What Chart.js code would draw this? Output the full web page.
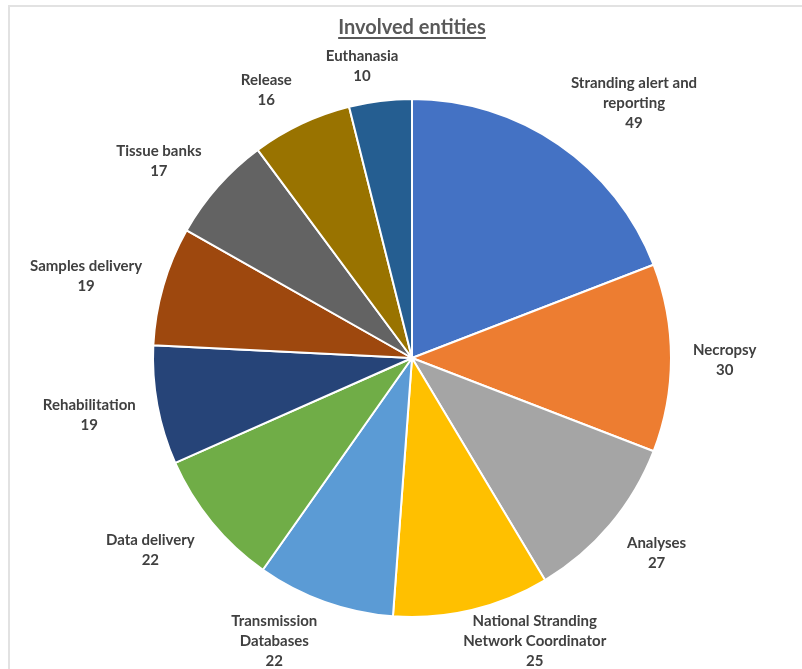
<!DOCTYPE html>
<html><head><meta charset="utf-8">
<script src="https://cdn.jsdelivr.net/npm/chart.js@4/dist/chart.umd.min.js"></script>
<style>
html,body{margin:0;padding:0;background:#fff;overflow:hidden}
#wrap{position:relative;width:802px;height:669px}
#frame{position:absolute;left:8px;top:5px;width:1000px;height:1000px;border-left:2px solid #e2e2e2;border-top:2px solid #e2e2e2;pointer-events:none}
</style></head><body>
<div id="wrap"><canvas id="c" width="802" height="669"></canvas><div id="frame"></div></div>
<script>
const chartTitle = 'Involved entities';
const categories = ['Stranding alert and reporting','Necropsy','Analyses','National Stranding Network Coordinator','Transmission Databases','Data delivery','Rehabilitation','Samples delivery','Tissue banks','Release','Euthanasia'];
const values = [49,30,27,25,22,22,19,19,17,16,10];
const colors = ['#4472C4','#ED7D31','#A5A5A5','#FFC000','#5B9BD5','#70AD47','#264478','#9E480E','#636363','#997300','#255E91'];

const LABEL_FONT = 'bold 15px Lato';
const TITLE_FONT = 'bold 20px Lato';

function wrapText(ctx, text, maxW){
  const words = text.split(' '); const lines=[]; let cur='';
  for(const w of words){
    const t = cur ? cur+' '+w : w;
    if(cur && ctx.measureText(t).width > maxW){ lines.push(cur); cur=w; } else cur=t;
  }
  if(cur) lines.push(cur);
  return lines;
}
const clamp1 = v => Math.max(-1, Math.min(1, v));

const labelPlugin = {
  id:'outLabels',
  afterDatasetsDraw(chart){
    const ctx = chart.ctx; const meta = chart.getDatasetMeta(0);
    ctx.save();
    ctx.font = LABEL_FONT; ctx.fillStyle = '#404040';
    ctx.textAlign='center'; ctx.textBaseline='middle';
    const lh = 20, gapX = 22, gapY = 17, H = chart.height;
    meta.data.forEach((arc,i)=>{
      const p = arc.getProps(['x','y','startAngle','endAngle','outerRadius'], true);
      const mid = (p.startAngle+p.endAngle)/2;
      const ux = Math.cos(mid), uy = Math.sin(mid);
      const lines = wrapText(ctx, categories[i], 150).concat(String(values[i]));
      const w = Math.max(...lines.map(l=>ctx.measureText(l).width));
      const h = lines.length*lh;
      let cx = p.x + ux*(p.outerRadius+gapX) + w/2*clamp1(ux*3.5);
      let cy = p.y + uy*(p.outerRadius+gapY) + h/2*clamp1(uy*1.2) + 2;
      cy = Math.min(cy, H + 2 - h/2);
      cy = Math.max(cy, h/2);
      lines.forEach((l,k)=>ctx.fillText(l, cx, cy - h/2 + lh/2 + k*lh));
    });
    // title
    ctx.font = TITLE_FONT; ctx.fillStyle = '#595959';
    const cxT = chart.chartArea.left + (chart.chartArea.right-chart.chartArea.left)/2;
    ctx.fillText(chartTitle, cxT, 28);
    const tw = ctx.measureText(chartTitle).width;
    ctx.fillRect(cxT - tw/2, 37, tw, 2);
    ctx.restore();
  }
};

new Chart(document.getElementById('c'), {
  type:'pie',
  data:{ labels: categories, datasets:[{ data: values, backgroundColor: colors, borderColor:'#ffffff', borderWidth:2 }]},
  options:{
    responsive:false, animation:false,
    layout:{ padding:{ left:151, right:129, top:98, bottom:51 } },
    plugins:{ legend:{display:false}, tooltip:{enabled:false}, title:{display:false} }
  },
  plugins:[labelPlugin]
});
</script>
</body></html>
